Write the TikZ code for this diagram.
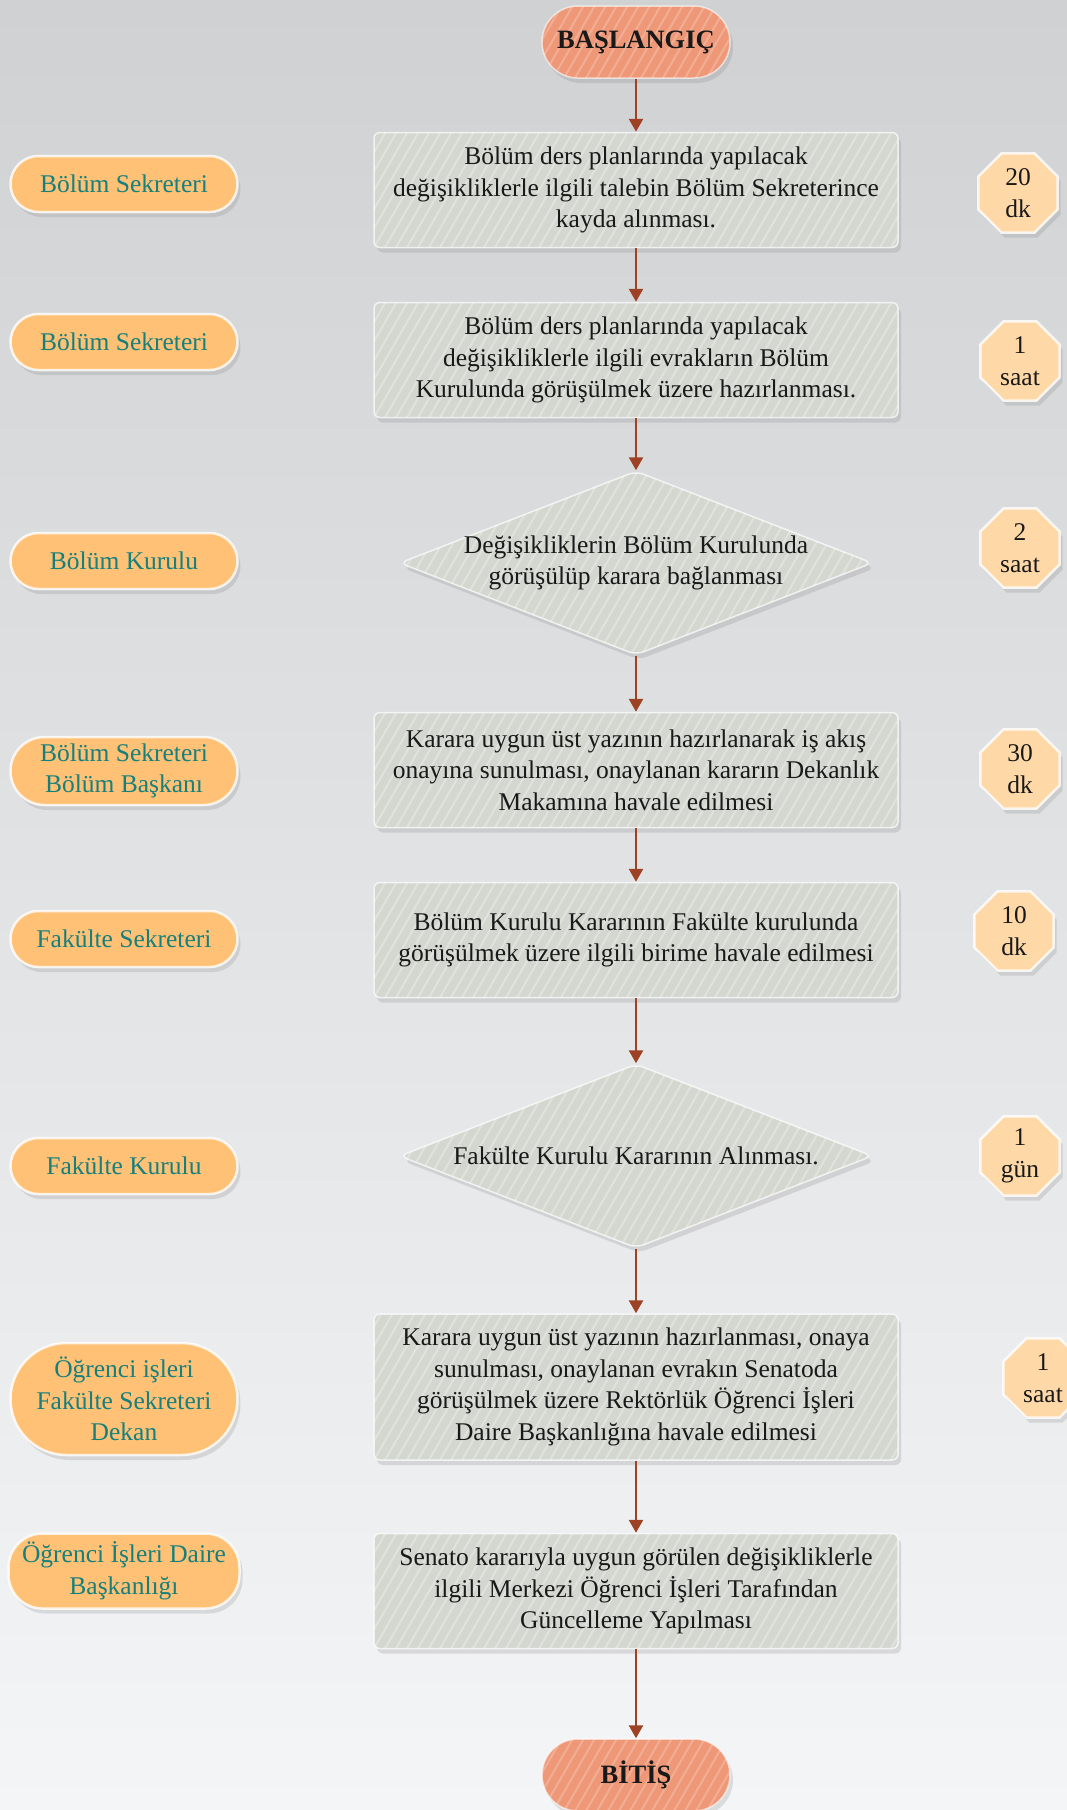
\documentclass[tikz,border=0pt]{standalone}
\usepackage{fontspec}
\setmainfont{Liberation Serif}
\usetikzlibrary{arrows.meta,shapes.geometric,shapes.misc,shadows}

\definecolor{bgtop}{RGB}{208,209,211}
\definecolor{bgbot}{RGB}{244,245,247}
\definecolor{termfill}{RGB}{238,152,120}
\definecolor{stepfill}{RGB}{212,215,208}
\definecolor{actorfill}{RGB}{255,193,117}
\definecolor{actortext}{RGB}{22,128,124}
\definecolor{timefill}{RGB}{255,216,168}
\definecolor{flowline}{RGB}{158,66,38}

\newcommand{\flowfont}{\fontsize{25.5}{31.7}\selectfont}

\tikzset{
  stripes/.style={path picture={\foreach \k in {-20,...,55}
      \draw[white,opacity=#1,line width=2pt]
        ([xshift=\k*11pt]path picture bounding box.south west) -- ++(127pt,220pt);}},
  soft/.style={drop shadow={opacity=.22,shadow xshift=3pt,shadow yshift=-5pt}},
  term/.style={rectangle,rounded corners=36pt,minimum width=188pt,minimum height=72pt,
    fill=termfill,draw=white,draw opacity=.6,line width=1.5pt,stripes=.22,soft,
    font=\fontsize{26.5}{30}\selectfont\bfseries,text=black!90},
  stepbox/.style={rectangle,rounded corners=6pt,minimum width=524pt,minimum height=115pt,
    fill=stepfill,draw=white,draw opacity=.7,line width=1.5pt,stripes=.28,soft,
    align=center,font=\flowfont,text=black!90},
  decision/.style={diamond,rounded corners=8pt,minimum width=473pt,minimum height=184pt,
    inner sep=0pt,fill=stepfill,draw=white,draw opacity=.7,line width=1.5pt,stripes=.28,soft},
  dtext/.style={align=center,font=\flowfont,text=black!90},
  actor/.style={rounded rectangle,minimum width=231pt,minimum height=56pt,inner sep=2pt,
    fill=actorfill,draw=white,draw opacity=.8,line width=2.5pt,soft,
    align=center,font=\flowfont,text=actortext},
  duration/.style={regular polygon,regular polygon sides=8,
    minimum size=86pt,inner sep=0pt,
    fill=timefill,draw=white,draw opacity=.8,line width=2.5pt,soft,
    align=center,font=\flowfont,text=black!90},
  flow/.style={draw=flowline,line width=2.5pt,-{Triangle[width=14pt,length=13pt]}}
}

\begin{document}
\begin{tikzpicture}[x=1pt,y=-1pt]
\shade[top color=bgtop,bottom color=bgbot] (0,0) rectangle (1067,1810);
\useasboundingbox (0,0) rectangle (1067,1810);

% main flow
\node[term] (start) at (636,42) {BAŞLANGIÇ};
\node[stepbox] (b1) at (636,190) {Bölüm ders planlarında yapılacak\\değişikliklerle ilgili talebin Bölüm Sekreterince\\kayda alınması.};
\node[stepbox] (b2) at (636,360) {Bölüm ders planlarında yapılacak\\değişikliklerle ilgili evrakların Bölüm\\Kurulunda görüşülmek üzere hazırlanması.};
\node[decision] (d1) at (636,563) {};
\node[dtext] (d1t) at (d1) {Değişikliklerin Bölüm Kurulunda\\görüşülüp karara bağlanması};
\node[stepbox] (b3) at (636,770) {Karara uygun üst yazının hazırlanarak iş akış\\onayına sunulması, onaylanan kararın Dekanlık\\Makamına havale edilmesi};
\node[stepbox] (b4) at (636,940) {Bölüm Kurulu Kararının Fakülte kurulunda\\görüşülmek üzere ilgili birime havale edilmesi};
\node[decision] (d2) at (636,1156) {};
\node[dtext] (d2t) at (d2) {Fakülte Kurulu Kararının Alınması.};
\node[stepbox,minimum height=146pt] (b5) at (636,1387) {Karara uygun üst yazının hazırlanması, onaya\\sunulması, onaylanan evrakın Senatoda\\görüşülmek üzere Rektörlük Öğrenci İşleri\\Daire Başkanlığına havale edilmesi};
\node[stepbox] (b6) at (636,1591) {Senato kararıyla uygun görülen değişikliklerle\\ilgili Merkezi Öğrenci İşleri Tarafından\\Güncelleme Yapılması};
\node[term] (end) at (636,1775) {BİTİŞ};

\draw[flow] (start.south) -- (b1.north);
\draw[flow] (b1.south) -- (b2.north);
\draw[flow] (b2.south) -- (d1.north);
\draw[flow] (d1.south) -- (b3.north);
\draw[flow] (b3.south) -- (b4.north);
\draw[flow] (b4.south) -- (d2.north);
\draw[flow] (d2.south) -- (b5.north);
\draw[flow] (b5.south) -- (b6.north);
\draw[flow] (b6.south) -- (end.north);

% who does it
\node[actor] (a1) at (124,184) {Bölüm Sekreteri};
\node[actor] (a2) at (124,342) {Bölüm Sekreteri};
\node[actor] (a3) at (124,561) {Bölüm Kurulu};
\node[actor,minimum height=68pt] (a4) at (124,771) {Bölüm Sekreteri\\Bölüm Başkanı};
\node[actor] (a5) at (124,939) {Fakülte Sekreteri};
\node[actor] (a6) at (124,1166) {Fakülte Kurulu};
\node[actor,minimum height=112pt] (a7) at (124,1399) {Öğrenci işleri\\Fakülte Sekreteri\\Dekan};
\node[actor,rectangle,rounded corners=34pt,minimum height=75pt,inner xsep=0pt] (a8) at (124,1571) {Öğrenci İşleri Daire\\Başkanlığı};

% how long
\node[duration] (t1) at (1018,193) {20\\dk};
\node[duration] (t2) at (1020,361) {1\\saat};
\node[duration] (t3) at (1020,548) {2\\saat};
\node[duration] (t4) at (1020,769) {30\\dk};
\node[duration] (t5) at (1014,931) {10\\dk};
\node[duration] (t6) at (1020,1156) {1\\gün};
\node[duration] (t7) at (1043,1378) {1\\saat};
\end{tikzpicture}
\end{document}
